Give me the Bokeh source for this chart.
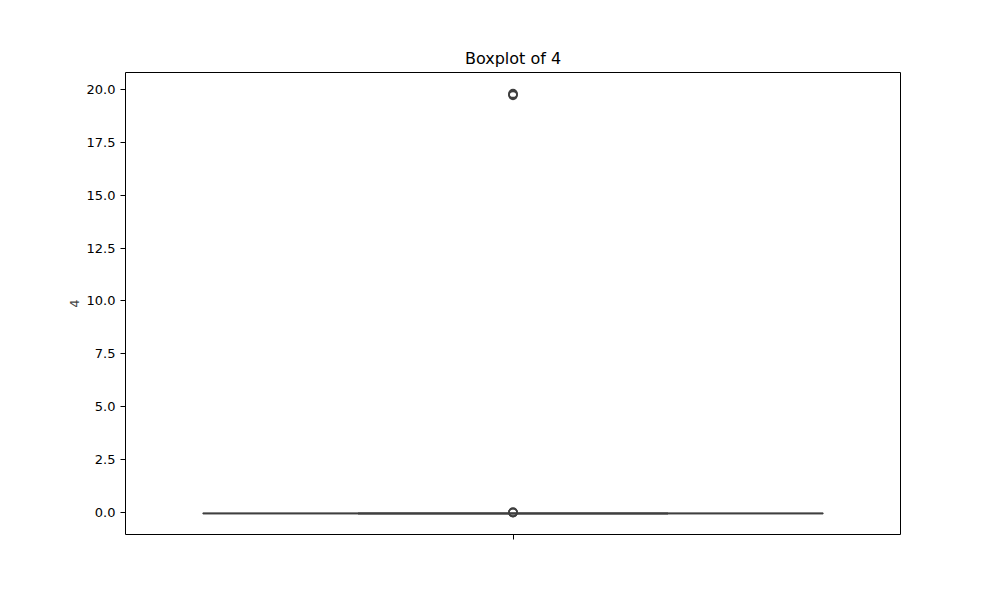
from bokeh.plotting import figure
from bokeh.models import FixedTicker, Range1d, NumeralTickFormatter
from bokeh.embed import file_html
from bokeh.resources import INLINE

# data
category = ["4"]
q1 = [-0.05]
median = [-0.045]
q3 = [-0.04]
whisker_low = [-0.055]
whisker_high = [-0.035]
outliers = [0.0, 0.02, -0.01, 19.72, 19.76, 19.80]
y_ticks = [0.0, 2.5, 5.0, 7.5, 10.0, 12.5, 15.0, 17.5, 20.0]

LINE = "#3f3f3f"
FILL = "#3274a1"
FONT = "DejaVu Sans"

p = figure(width=1000, height=600, output_backend="svg", toolbar_location=None,
           x_range=Range1d(-0.5, 0.5), y_range=Range1d(-1.04, 20.80),
           min_border_left=125, min_border_right=100, min_border_top=72, min_border_bottom=66,
           title="Boxplot of 4")
p.title.align = "center"
p.title.text_font = FONT
p.title.text_font_size = "16px"
p.title.text_font_style = "normal"
p.title.text_color = "#000000"
p.grid.visible = False
p.outline_line_color = "#000000"
p.outline_line_width = 1

# box
x0 = 0.0
bw = 0.8
p.quad(left=[x0 - bw / 2], right=[x0 + bw / 2], bottom=q1, top=q3,
       fill_color=FILL, line_color=LINE, line_width=1.5)
# median
p.segment(x0=[x0 - bw / 2], x1=[x0 + bw / 2], y0=median, y1=median, line_color=LINE, line_width=1.5)
# whiskers
p.segment(x0=[x0, x0], x1=[x0, x0], y0=[whisker_low[0], q3[0]], y1=[q1[0], whisker_high[0]],
          line_color=LINE, line_width=1.5)
# caps
cw = 0.4
p.segment(x0=[x0 - cw / 2, x0 - cw / 2], x1=[x0 + cw / 2, x0 + cw / 2],
          y0=[whisker_low[0], whisker_high[0]], y1=[whisker_low[0], whisker_high[0]],
          line_color=LINE, line_width=1.5)
# outliers
p.scatter(x=[x0] * len(outliers), y=outliers, size=8, marker="circle",
          fill_color=None, line_color=LINE, line_width=1.6)

# axes
p.xaxis.ticker = FixedTicker(ticks=[0])
p.xaxis.major_label_overrides = {0: ""}
p.xaxis.minor_tick_line_color = None
p.xaxis.major_tick_in = 0
p.xaxis.major_tick_out = 5
p.xaxis.axis_line_color = None

p.yaxis.ticker = FixedTicker(ticks=y_ticks)
p.yaxis.formatter = NumeralTickFormatter(format="0.0")
p.yaxis.minor_tick_line_color = None
p.yaxis.major_tick_in = 0
p.yaxis.major_tick_out = 5
p.yaxis.axis_line_color = None
p.yaxis.axis_label = "4"

for ax in (p.xaxis, p.yaxis):
    ax.major_label_text_font = FONT
    ax.major_label_text_font_size = "13px"
    ax.major_label_text_color = "#000000"
    ax.axis_label_text_font = FONT
    ax.axis_label_text_font_size = "13px"
    ax.axis_label_text_font_style = "normal"
    ax.major_tick_line_color = "#000000"

open("out.html", "w").write(file_html(p, INLINE))
